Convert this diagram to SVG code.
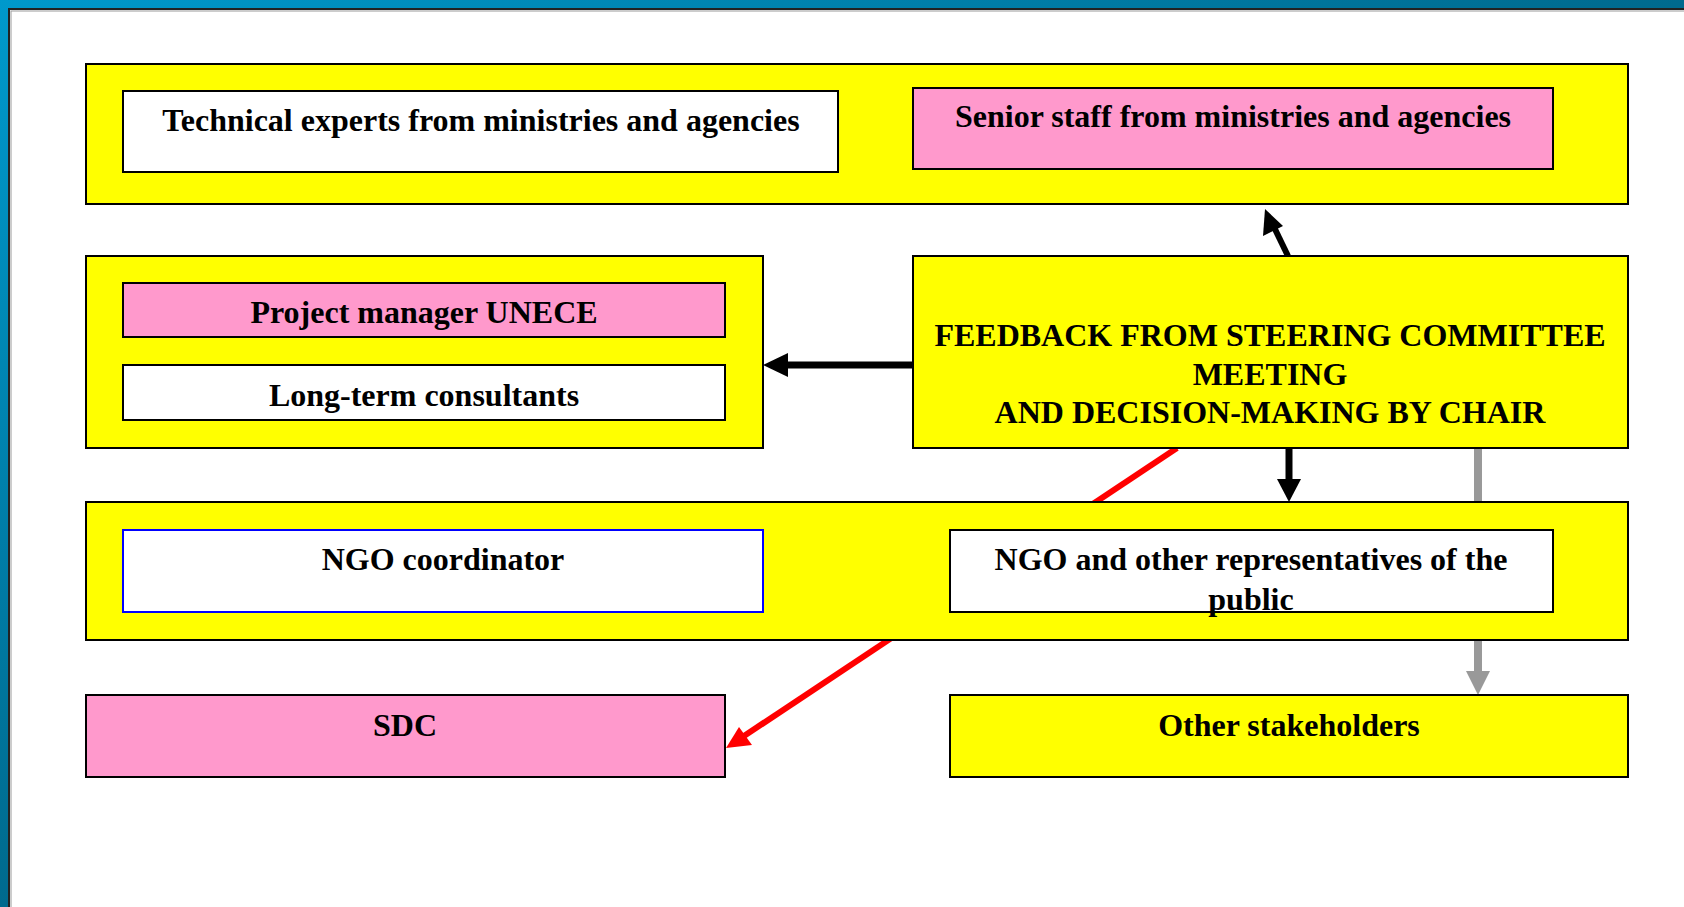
<svg xmlns="http://www.w3.org/2000/svg" width="1684" height="907" viewBox="0 0 1684 907">
<defs>
<linearGradient id="bg" x1="0" y1="0" x2="1" y2="1">
<stop offset="0" stop-color="#0099cc"/>
<stop offset="0.5" stop-color="#006a8e"/>
<stop offset="1" stop-color="#005070"/>
</linearGradient>
<style>
.box{stroke:#000;stroke-width:2}
.y{fill:#ffff00}
.p{fill:#ff99cc}
.w{fill:#ffffff}
text{font-family:"Liberation Serif","Times New Roman",serif;font-weight:bold;font-size:32px;fill:#000;text-anchor:middle}
</style>
</defs>
<rect x="0" y="0" width="1684" height="907" fill="url(#bg)"/>
<rect x="9" y="9" width="1680" height="903" fill="#ffffff" stroke="#222" stroke-width="2"/>
<rect x="11" y="11" width="1680" height="903" fill="#ffffff" stroke="#999" stroke-width="1"/>

<g id="connectors">
<line x1="1288" y1="256" x2="1273" y2="225" stroke="#000" stroke-width="6"/>
<polygon points="1265,209 1263,236 1283,226" fill="#000"/>
<line x1="913" y1="365" x2="785" y2="365" stroke="#000" stroke-width="7"/>
<polygon points="763,365 788,353 788,377" fill="#000"/>
<line x1="1289" y1="448" x2="1289" y2="480" stroke="#000" stroke-width="7"/>
<polygon points="1289,502 1277,479 1301,479" fill="#000"/>
<line x1="1177" y1="448" x2="744" y2="736" stroke="#ff0000" stroke-width="6"/>
<polygon points="726,748 739,727 752,745" fill="#ff0000"/>
<line x1="1478" y1="448" x2="1478" y2="672" stroke="#999999" stroke-width="8"/>
<polygon points="1478,695 1466,671 1490,671" fill="#999999"/>
</g>

<g id="top-group">
<rect class="box y" x="86" y="64" width="1542" height="140"/>
</g>
<g id="technical-experts">
<rect class="box w" x="123" y="91" width="715" height="81"/>
<text x="481" y="131">Technical experts from ministries and agencies</text>
</g>
<g id="senior-staff">
<rect class="box p" x="913" y="88" width="640" height="81"/>
<text x="1233" y="127">Senior staff from ministries and agencies</text>
</g>

<g id="project-group">
<rect class="box y" x="86" y="256" width="677" height="192"/>
</g>
<g id="project-manager">
<rect class="box p" x="123" y="283" width="602" height="54"/>
<text x="424" y="323">Project manager UNECE</text>
</g>
<g id="long-term-consultants">
<rect class="box w" x="123" y="365" width="602" height="55"/>
<text x="424" y="406">Long-term consultants</text>
</g>

<g id="feedback">
<rect class="box y" x="913" y="256" width="715" height="192"/>
<text x="1270" y="346">FEEDBACK FROM STEERING COMMITTEE</text>
<text x="1270" y="385">MEETING</text>
<text x="1270" y="423">AND DECISION-MAKING BY CHAIR</text>
</g>

<g id="ngo-group">
<rect class="box y" x="86" y="502" width="1542" height="138"/>
</g>
<g id="ngo-coordinator">
<rect x="123" y="530" width="640" height="82" fill="#ffffff" stroke="#0000ff" stroke-width="2"/>
<text x="443" y="570">NGO coordinator</text>
</g>
<g id="ngo-public">
<rect class="box w" x="950" y="530" width="603" height="82"/>
<text x="1251" y="570">NGO and other representatives of the</text>
<text x="1251" y="610">public</text>
</g>

<g id="sdc">
<rect class="box p" x="86" y="695" width="639" height="82"/>
<text x="405" y="736">SDC</text>
</g>
<g id="other-stakeholders">
<rect class="box y" x="950" y="695" width="678" height="82"/>
<text x="1289" y="736">Other stakeholders</text>
</g>
</svg>
